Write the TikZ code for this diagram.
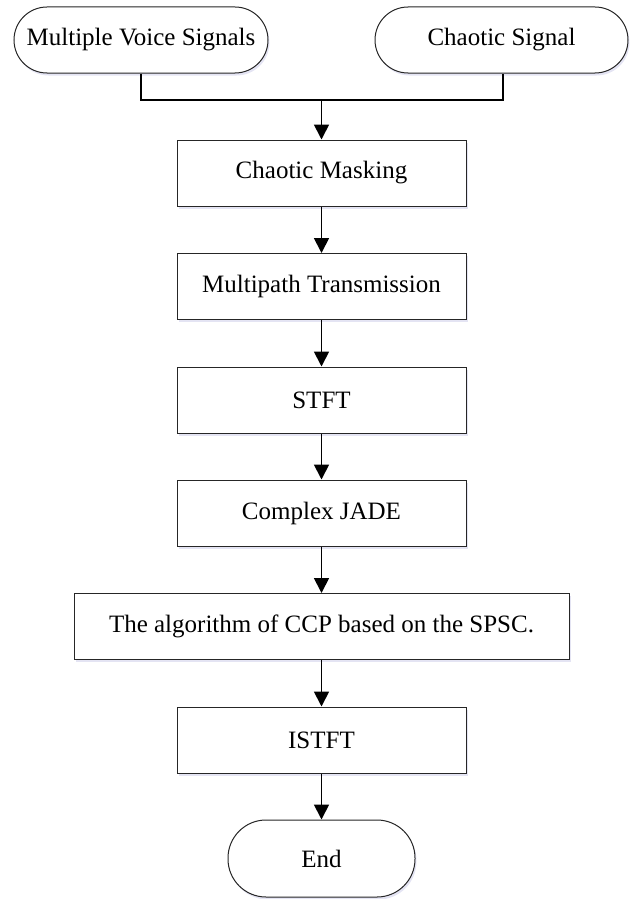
\documentclass[tikz,border=0pt]{standalone}
\usepackage{fontspec}
\setmainfont{Liberation Serif}
\usetikzlibrary{arrows.meta,shadows}
\tikzset{
  base/.style={draw=black!85, line width=1pt, fill=white, font=\fontsize{25}{30}\selectfont,
    inner sep=0pt, align=center,
    drop shadow={shadow xshift=1.5pt, shadow yshift=-2.5pt, fill=blue!40!gray!60, opacity=0.25}},
  procbox/.style={base, rectangle, minimum height=66pt},
  termbox/.style={base, rectangle, rounded corners=33pt, minimum height=66pt},
  conn/.style={line width=1.8pt, black},
  arr/.style={conn, -{Triangle[length=15pt,width=15pt]}}
}
\begin{document}
\begin{tikzpicture}[x=1pt,y=-1pt]
\useasboundingbox (0,0) rectangle (638,899);
\node[termbox, minimum width=254pt] (mvs) at (141,40) {Multiple Voice Signals};
\node[termbox, minimum width=253pt] (cs) at (501.5,40) {Chaotic Signal};
\node[procbox, minimum width=289pt] (cm) at (321.5,173) {Chaotic Masking};
\node[procbox, minimum width=289pt] (mt) at (321.5,286.5) {Multipath Transmission};
\node[procbox, minimum width=289pt] (stft) at (321.5,400) {STFT};
\node[procbox, minimum width=289pt] (jade) at (321.5,513) {Complex JADE};
\node[procbox, minimum width=495pt] (alg) at (321.5,626.5) {The algorithm of CCP based on the SPSC.};
\node[procbox, minimum width=289pt] (istft) at (321.5,740) {ISTFT};
\node[termbox, minimum width=187pt, minimum height=77pt, rounded corners=38pt] (end) at (321.5,858.5) {End};
\coordinate (ml) at (141,100);
\coordinate (mr) at (503,100);
\coordinate (mc) at (321.5,100);
\draw[conn] (mvs.south) -- (ml) -- (mr) -- (cs.south -| mr);
\draw[arr] (mc) -- (cm.north);
\draw[arr] (cm) -- (mt);
\draw[arr] (mt) -- (stft);
\draw[arr] (stft) -- (jade);
\draw[arr] (jade) -- (alg);
\draw[arr] (alg) -- (istft);
\draw[arr] (istft) -- (end);
\end{tikzpicture}
\end{document}
